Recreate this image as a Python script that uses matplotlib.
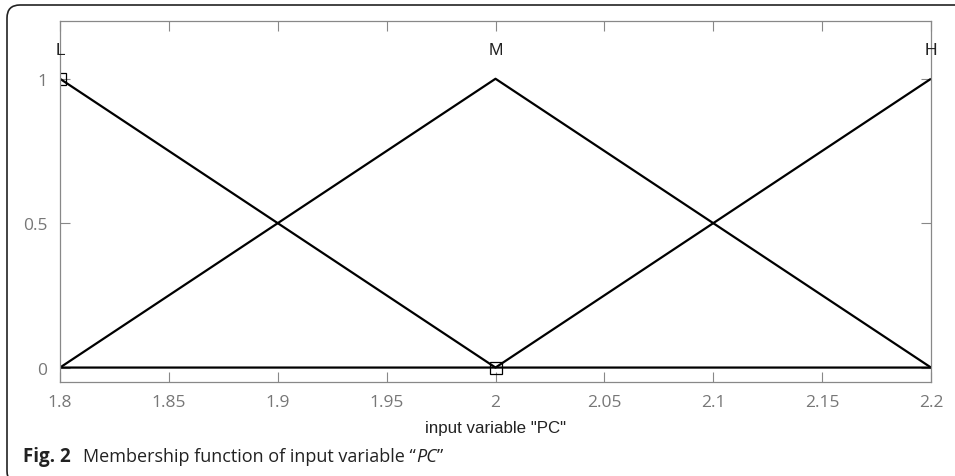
import matplotlib
matplotlib.use("Agg")
import matplotlib.pyplot as plt
from matplotlib.patches import FancyBboxPatch
from matplotlib.transforms import IdentityTransform

x_pts = [1.8, 2.0, 2.2]
mf_L = [1, 0, 0]
mf_M = [0, 1, 0]
mf_H = [0, 0, 1]
mf_names = ["L", "M", "H"]
mf_peaks = [1.8, 2.0, 2.2]
marker_x = [1.8, 2.0]
marker_y = [1, 0]
xticks = [1.8, 1.85, 1.9, 1.95, 2.0, 2.05, 2.1, 2.15, 2.2]
xticklabels = ["1.8", "1.85", "1.9", "1.95", "2", "2.05", "2.1", "2.15", "2.2"]
yticks = [0, 0.5, 1]
yticklabels = ["0", "0.5", "1"]

W, H = 955, 477
fig = plt.figure(figsize=(W / 100, H / 100), dpi=100)

# outer rounded frame (pixel coordinates)
frame = FancyBboxPatch((7, -8), 1100, H - 6 + 8,
                       boxstyle="round,pad=0,rounding_size=13",
                       transform=IdentityTransform(), fill=False, lw=1.2,
                       edgecolor="#222222")
fig.patches.append(frame)

ax = fig.add_axes([60 / W, 1 - 383 / H, (931 - 60) / W, (383 - 22) / H])
for y in (mf_L, mf_M, mf_H):
    ax.plot(x_pts, y, color="black", lw=1.6, solid_capstyle="butt")
ax.plot(marker_x, marker_y, linestyle="none", marker="s", markersize=8,
        markerfacecolor="none", markeredgecolor="black", markeredgewidth=0.9)
for name, px in zip(mf_names, mf_peaks):
    ax.text(px, 1.1, name, ha="center", va="center", fontsize=12.5,
            family="Liberation Sans", color="#222222")

ax.set_xlim(1.8, 2.2)
ax.set_ylim(-0.05, 1.2)
ax.set_xticks(xticks)
ax.set_xticklabels(xticklabels)
ax.set_yticks(yticks)
ax.set_yticklabels(yticklabels)
ax.tick_params(direction="in", top=True, right=True, length=7, width=0.8,
               color="#888888", labelcolor="#777777", labelsize=12.5, pad=9)
for lab in ax.get_xticklabels() + ax.get_yticklabels():
    lab.set_family("Open Sans")
for sp in ax.spines.values():
    sp.set_color("#888888")
    sp.set_linewidth(0.9)
ax.set_xlabel('input variable "PC"', fontsize=12.2, family="Liberation Sans",
              color="#222222", labelpad=7)

# caption built from pieces
renderer = fig.canvas.get_renderer()
cy = 1 - 457 / H
t1 = fig.text(23 / W, cy, "Fig. 2", fontsize=13.5, va="center", ha="left",
              family="Open Sans", weight="bold", color="#222222")
t2 = fig.text(83 / W, cy, "Membership function of input variable \u201c",
              fontsize=13, va="center", ha="left", family="Open Sans",
              color="#222222")
bb = t2.get_window_extent(renderer)
t3 = fig.text(bb.x1 / W, cy, "PC", fontsize=13, va="center", ha="left",
              family="Open Sans", style="italic", color="#222222")
bb3 = t3.get_window_extent(renderer)
fig.text(bb3.x1 / W, cy, "\u201d", fontsize=13, va="center", ha="left",
         family="Open Sans", color="#222222")

fig.savefig("out.png", dpi=100)
